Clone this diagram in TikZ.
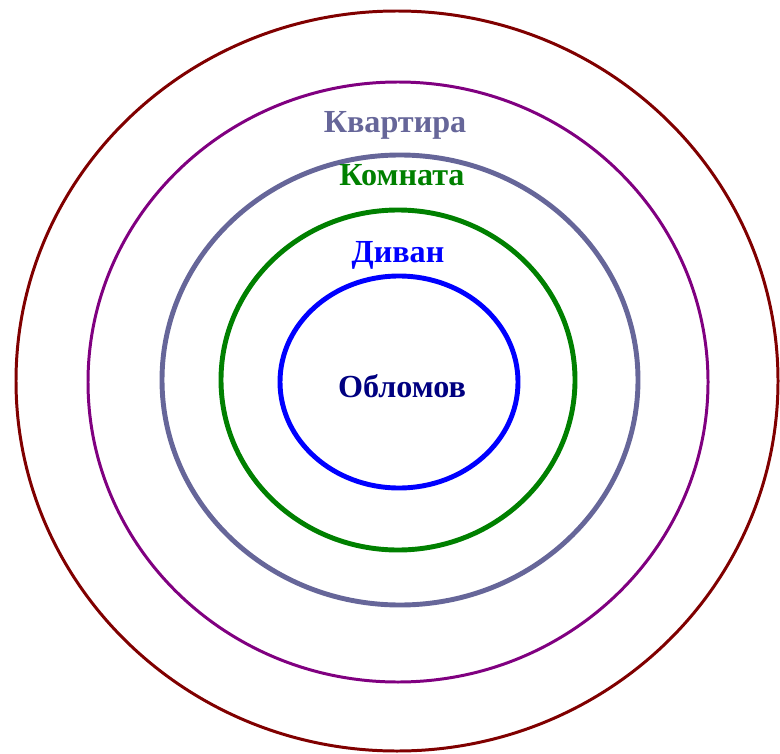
\documentclass[tikz,border=0pt]{standalone}
\usepackage{fontspec}
\setmainfont{Liberation Serif}
\usepackage{tikz}
\definecolor{ringred}{HTML}{800000}
\definecolor{ringpurple}{HTML}{800080}
\definecolor{ringgray}{HTML}{666699}
\definecolor{ringgreen}{HTML}{008000}
\definecolor{ringblue}{HTML}{0000FF}
\definecolor{namenavy}{HTML}{000080}
\tikzstyle{thinring}=[line width=1.7pt]
\tikzstyle{thickring}=[line width=2.8pt]
\tikzstyle{place}=[
    anchor=base,
    inner sep=0pt,
    font=\fontsize{18.3}{21}\selectfont\bfseries
]

\begin{document}
\begin{tikzpicture}[x=0.02cm,y=-0.02cm]
\useasboundingbox (0,0) rectangle (780,753);
% rings, outermost first
\draw[thinring,ringred] (397,381) ellipse [x radius=381,y radius=370];
\draw[thinring,ringpurple] (398,382) ellipse [x radius=310,y radius=300];
\draw[thickring,ringgray] (400,380) ellipse [x radius=238,y radius=225];
\draw[thickring,ringgreen] (398,380) ellipse [x radius=177,y radius=170];
\draw[thickring,ringblue] (399,382) ellipse [x radius=119,y radius=106];
% labels
\node[place,text=ringgray] (flat) at (395,133) {Квартира};
\node[place,text=ringgreen] (room) at (402,186) {Комната};
\node[place,text=ringblue] (sofa) at (398,262) {Диван};
\node[place,text=namenavy] (oblomov) at (402,397) {Обломов};
\end{tikzpicture}
\end{document}
